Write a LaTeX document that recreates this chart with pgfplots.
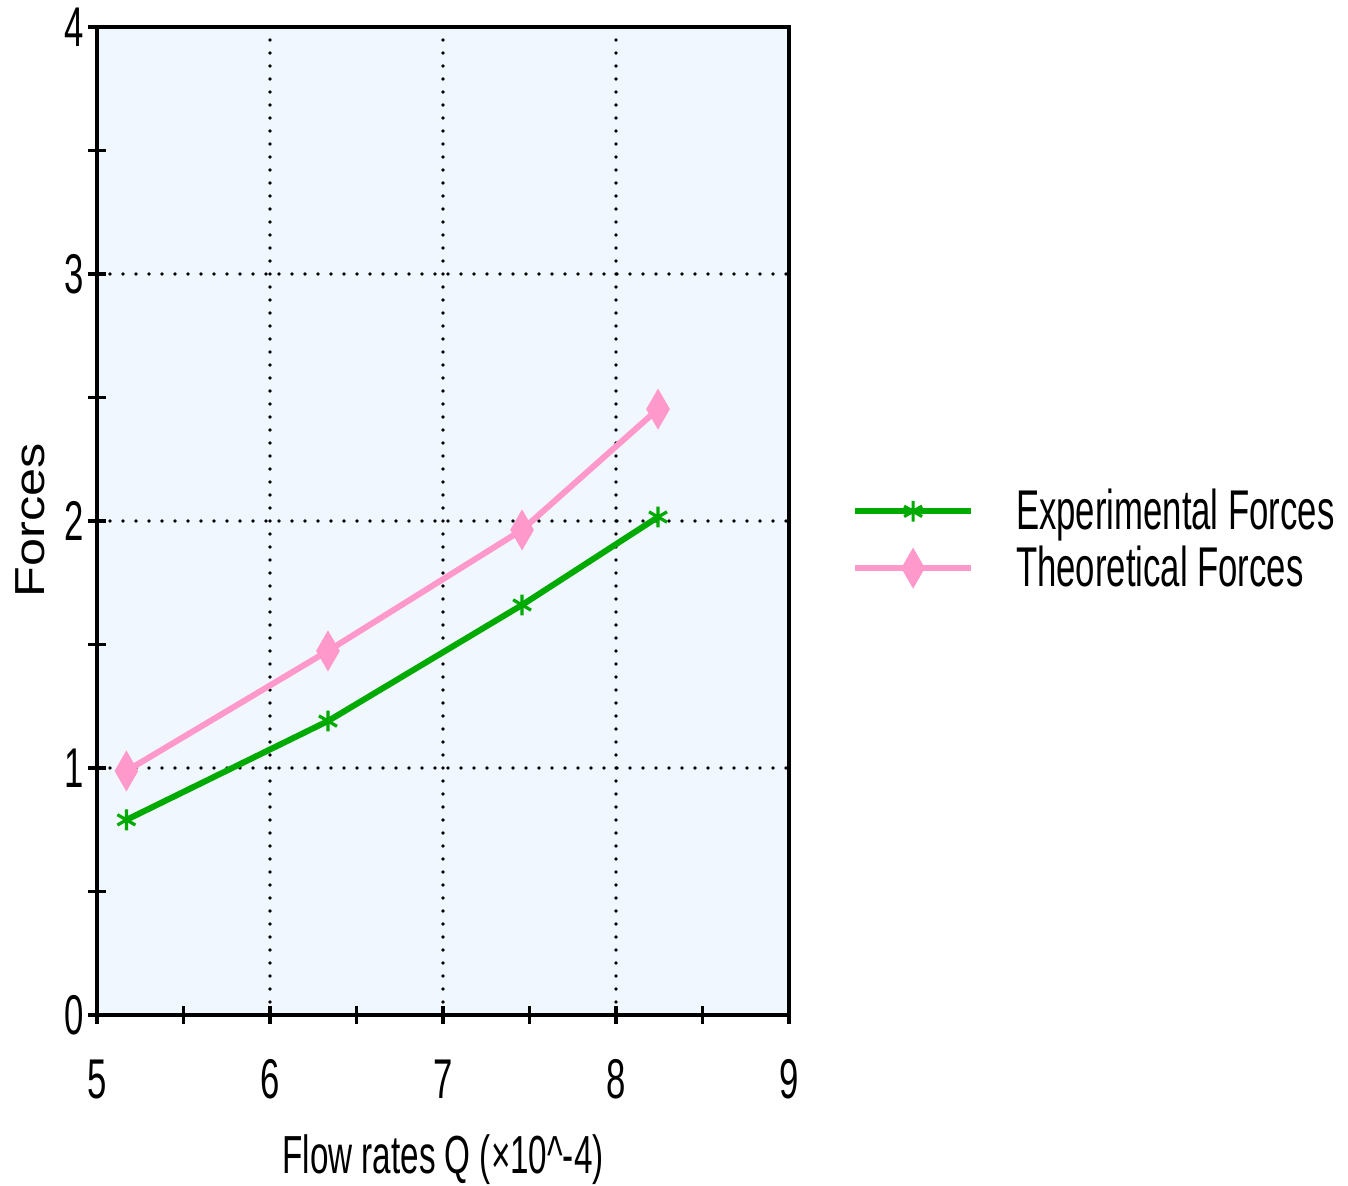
\documentclass[border=0pt]{standalone}
\usepackage{fontspec}
\usepackage{pgfplots}
\pgfplotsset{compat=1.18}
\usetikzlibrary{calc}
\newfontfamily\narrowsans[FakeStretch=0.62]{Liberation Sans}
\newfontfamily\widesans[FakeStretch=1.2]{Liberation Sans}
\definecolor{expgreen}{RGB}{0,170,0}
\definecolor{theopink}{RGB}{255,153,204}
\definecolor{bgblue}{RGB}{240,247,254}
\begin{document}
\begin{tikzpicture}
\begin{axis}[
    width=173pt, height=247pt,
    scale only axis,
    xmin=5, xmax=9, ymin=0, ymax=4,
    xtick={5,6,7,8,9}, ytick={0,1,2,3,4},
    minor tick num=1,
    tick align=center,
    major tick length=4.5pt, minor tick length=4.5pt,
    every tick/.style={black, line width=0.8pt},
    axis line style={black, line width=1pt},
    axis background/.style={fill=bgblue},
    xtick pos=bottom, ytick pos=left,
    grid=major,
    major grid style={black, line width=0.9pt, line cap=round, dash pattern=on 0pt off 3.25pt},
    /pgf/number format/assume math mode=true,
    tick label style={font=\narrowsans\fontsize{14}{14}\selectfont},
    xticklabel style={yshift=-5.4pt},
    yticklabel style={xshift=2.4pt},
    xlabel={Flow rates Q (×10\^{}-4)},
    xlabel style={font=\narrowsans\fontsize{13.4}{13.4}\selectfont, at={(axis description cs:0.5,-0.1467)}, anchor=center},
    ylabel={Forces},
    ylabel style={font=\widesans\fontsize{10.5}{10.5}\selectfont, at={(axis description cs:-0.097,0.501)}, anchor=center},
    legend style={at={(axis description cs:1.0727,0.477)}, anchor=west, draw=none, fill=none,
        font=\narrowsans\fontsize{14}{14}\selectfont,
        nodes={inner sep=0pt, text height=10pt, text depth=3pt}, row sep=1.2pt},
    legend cell align=left,
    legend image code/.code={
        \draw[#1, mark repeat=2, mark phase=2] plot coordinates {(0pt,1pt) (14.5pt,1pt) (29pt,1pt)};
        \path (39.5pt,1pt);
    },
]
\addplot[expgreen, line width=1.5pt, mark=asterisk, mark size=2.6pt, mark options={line width=0.8pt}] coordinates {
    (5.17,0.79) (6.335,1.19) (7.457,1.66) (8.243,2.016)
};
\addlegendentry{Experimental Forces}
\addplot[theopink, line width=1.5pt, mark=diamond*, mark size=2.8pt, mark options={yscale=1.3}] coordinates {
    (5.17,0.988) (6.335,1.474) (7.457,1.964) (8.243,2.453)
};
\addlegendentry{Theoretical Forces}
\coordinate (sw) at (rel axis cs:0,0);
\coordinate (ne) at (rel axis cs:1,1);
\end{axis}
\pgfresetboundingbox
\path[use as bounding box] ($(sw)+(-24.25pt,-42.75pt)$) rectangle ($(ne)+(139.75pt,6.75pt)$);
\end{tikzpicture}
\end{document}
